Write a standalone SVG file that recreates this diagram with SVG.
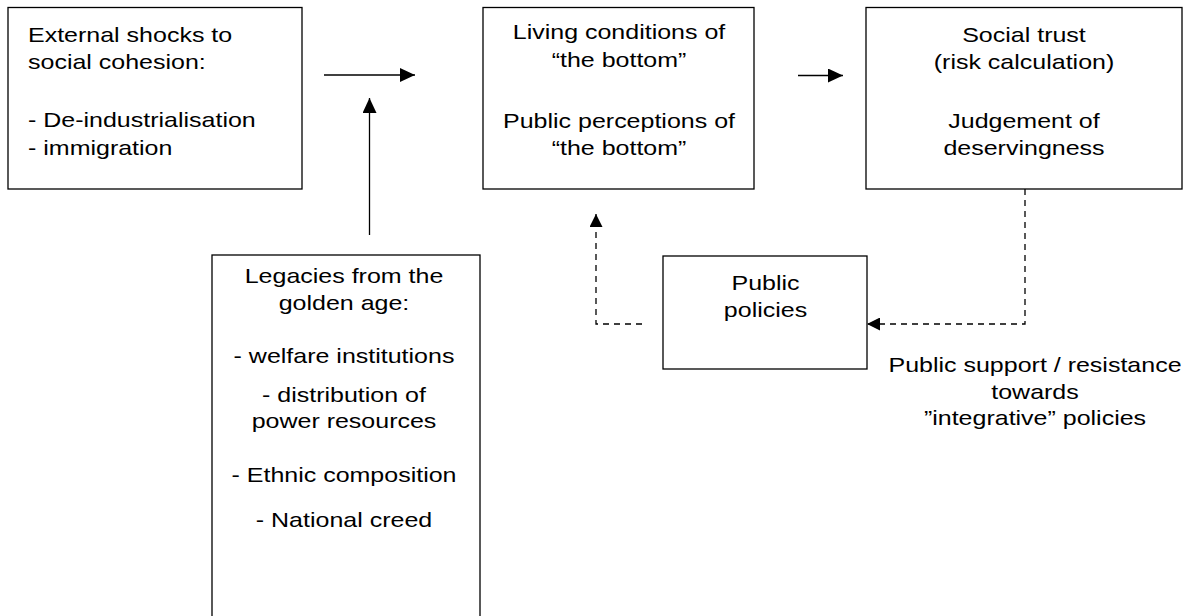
<svg xmlns="http://www.w3.org/2000/svg" width="1190" height="616" viewBox="0 0 1190 616">
<style>
.box{fill:#fff;stroke:#000;stroke-width:1.3}
.t{font-family:"Liberation Sans",Arial,sans-serif;font-size:21px;fill:#000}
.c{text-anchor:middle}
.edge{fill:none;stroke:#000;stroke-width:1.3}
.dash{stroke-dasharray:6 5}
</style>
<defs>
<marker id="ah" markerUnits="userSpaceOnUse" markerWidth="15" markerHeight="14" refX="15" refY="7" orient="auto">
<path d="M0,0 L15,7 L0,14 z" fill="#000"/>
</marker>
<marker id="ahd" markerUnits="userSpaceOnUse" markerWidth="13" markerHeight="13" refX="13" refY="6.5" orient="auto">
<path d="M0,0 L13,6.5 L0,13 z" fill="#000"/>
</marker>
</defs>
<rect width="1190" height="616" fill="#fff"/>
<g id="connectors">
<line class="edge" x1="324" y1="75" x2="415" y2="75" marker-end="url(#ah)"/>
<line class="edge" x1="369.5" y1="235" x2="369.5" y2="98" marker-end="url(#ah)"/>
<line class="edge" x1="798" y1="75.5" x2="843" y2="75.5" marker-end="url(#ah)"/>
<path class="edge dash" d="M1025,189 V324 H867" marker-end="url(#ahd)"/>
<path class="edge dash" d="M642,324 H596 V214" marker-end="url(#ahd)"/>
</g>
<g id="external-shocks">
<rect class="box" x="8" y="7.5" width="294" height="181.5"/>
<text class="t" transform="translate(28,41.7) scale(1.19,1)">External shocks to</text>
<text class="t" transform="translate(28,69.3) scale(1.19,1)">social cohesion:</text>
<text class="t" transform="translate(28,127.3) scale(1.19,1)">- De-industrialisation</text>
<text class="t" transform="translate(28,155) scale(1.19,1)">- immigration</text>
</g>
<g id="living-conditions">
<rect class="box" x="483" y="7.5" width="271" height="181.5"/>
<text class="t c" transform="translate(619,39) scale(1.19,1)">Living conditions of</text>
<text class="t c" transform="translate(619,66.7) scale(1.19,1)">“the bottom”</text>
<text class="t c" transform="translate(619,127.7) scale(1.19,1)">Public perceptions of</text>
<text class="t c" transform="translate(619,155) scale(1.19,1)">“the bottom”</text>
</g>
<g id="social-trust">
<rect class="box" x="866" y="7.5" width="316" height="181.5"/>
<text class="t c" transform="translate(1024,41.7) scale(1.19,1)">Social trust</text>
<text class="t c" transform="translate(1024,69) scale(1.19,1)">(risk calculation)</text>
<text class="t c" transform="translate(1024,128) scale(1.19,1)">Judgement of</text>
<text class="t c" transform="translate(1024,155) scale(1.19,1)">deservingness</text>
</g>
<g id="public-policies">
<rect class="box" x="663" y="256" width="204" height="113"/>
<text class="t c" transform="translate(765.5,290) scale(1.19,1)">Public</text>
<text class="t c" transform="translate(765.5,317.3) scale(1.19,1)">policies</text>
</g>
<g id="public-support-label">
<text class="t c" transform="translate(1035,371.7) scale(1.19,1)">Public support / resistance</text>
<text class="t c" transform="translate(1035,398.5) scale(1.19,1)">towards</text>
<text class="t c" transform="translate(1035,425.3) scale(1.19,1)">”integrative” policies</text>
</g>
<g id="legacies">
<rect class="box" x="212" y="255" width="268" height="380"/>
<text class="t c" transform="translate(344,283) scale(1.19,1)">Legacies from the</text>
<text class="t c" transform="translate(344,310) scale(1.19,1)">golden age:</text>
<text class="t c" transform="translate(344,363.3) scale(1.19,1)">- welfare institutions</text>
<text class="t c" transform="translate(344,401.7) scale(1.19,1)">- distribution of</text>
<text class="t c" transform="translate(344,428.3) scale(1.19,1)">power resources</text>
<text class="t c" transform="translate(344,481.7) scale(1.19,1)">- Ethnic composition</text>
<text class="t c" transform="translate(344,527.3) scale(1.19,1)">- National creed</text>
</g>
</svg>
